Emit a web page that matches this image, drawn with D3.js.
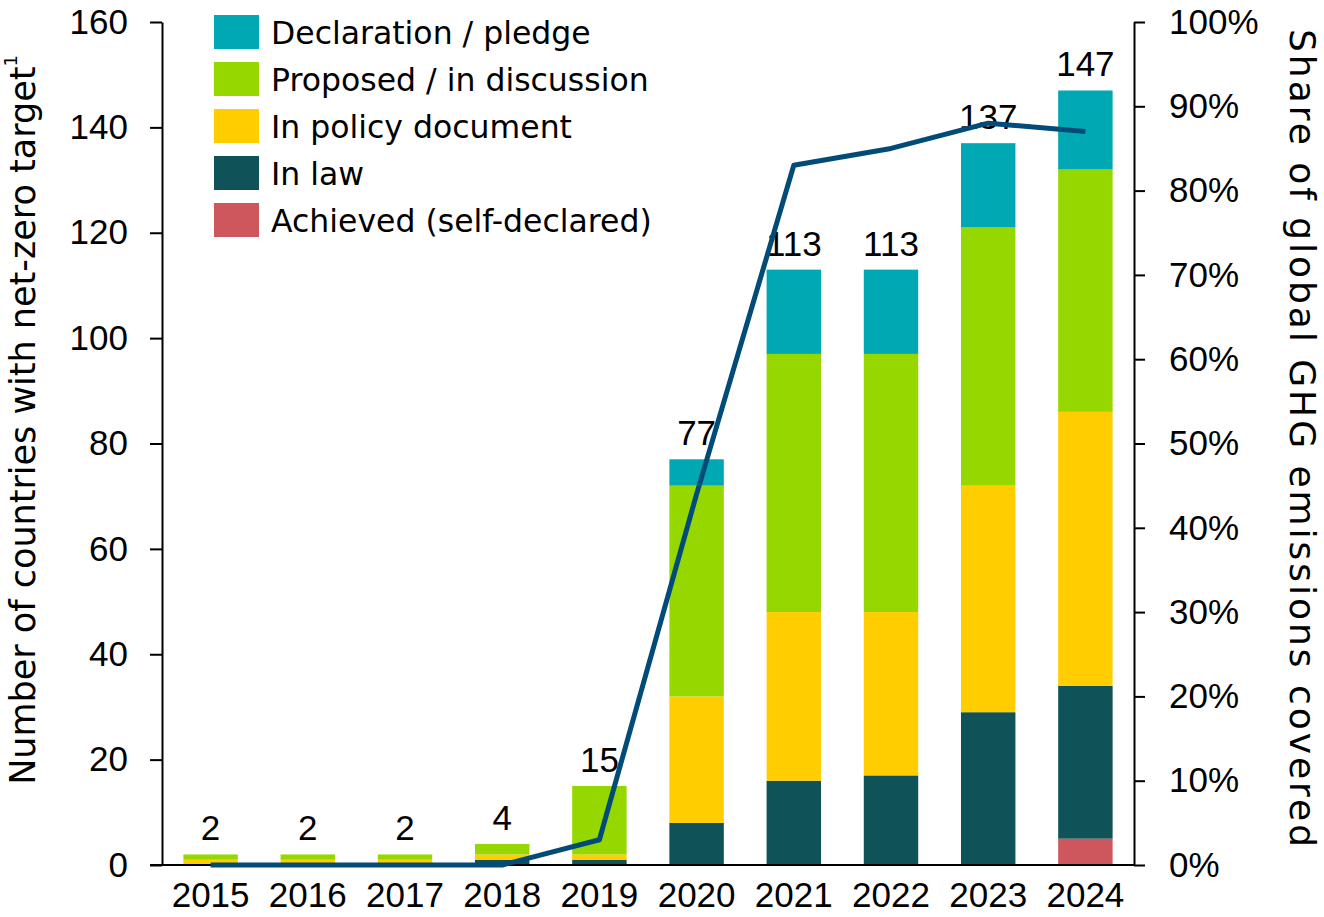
<!DOCTYPE html>
<html>
<head>
<meta charset="utf-8">
<script src="https://d3js.org/d3.v7.min.js"></script>
<style>
body { margin:0; background:#fff; }
text { font-family: "DejaVu Sans", sans-serif; fill:#000; }
.num { font-family: "Liberation Sans", Arial, sans-serif; }
</style>
</head>
<body>
<div id="chart"></div>
<script>
// data
var years = ["2015","2016","2017","2018","2019","2020","2021","2022","2023","2024"];
var achieved    = [0, 0, 0, 0, 0, 0, 0, 0, 0, 5];
var inLaw       = [0, 0, 0, 1, 1, 8, 16, 17, 29, 29];
var inPolicy    = [1, 1, 1, 1, 1, 24, 32, 31, 43, 52];
var proposed    = [1, 1, 1, 2, 13, 40, 49, 49, 49, 46];
var declaration = [0, 0, 0, 0, 0, 5, 16, 16, 16, 15];
var totals      = [2, 2, 2, 4, 15, 77, 113, 113, 137, 147];
var ghgShare    = [0, 0, 0, 0, 3, 44, 83, 85, 88, 87];

var leftTicks  = [0, 20, 40, 60, 80, 100, 120, 140, 160];
var rightTicks = [0, 10, 20, 30, 40, 50, 60, 70, 80, 90, 100];

var seriesNames = ["Achieved (self-declared)", "In law", "In policy document", "Proposed / in discussion", "Declaration / pledge"];
var seriesData  = [achieved, inLaw, inPolicy, proposed, declaration];
var colorArr    = ["#cd575c", "#0f5257", "#ffcd00", "#97d700", "#00a8b4"];

var W = 1324, H = 917;
var pLeft = 162, pRight = 1134, pTop = 22, pBottom = 865;

var svg = d3.select("#chart").append("svg")
    .attr("width", W)
    .attr("height", H);

var x = d3.scaleBand().domain(years).range([pLeft, pRight]).paddingInner(0.44).paddingOuter(0.22);
var y = d3.scaleLinear().domain([0, 160]).range([pBottom, pTop]);
var y2 = d3.scaleLinear().domain([0, 100]).range([pBottom, pTop]);

// stacked rows
var rows = years.map(function(yr, i){
    var r = {year: yr};
    seriesNames.forEach(function(s, k){ r[s] = seriesData[k][i]; });
    return r;
});
var stack = d3.stack().keys(seriesNames)(rows);

var layer = svg.selectAll(".layer").data(stack)
    .enter().append("g")
    .attr("class", "layer")
    .attr("fill", function(d, i){ return colorArr[i]; });

layer.selectAll("rect").data(function(d){ return d; })
    .enter().append("rect")
    .attr("x", function(d){ return x(d.data.year); })
    .attr("width", x.bandwidth())
    .attr("y", function(d){ return y(d[1]); })
    .attr("height", function(d){ return y(d[0]) - y(d[1]); });

// total labels
svg.selectAll(".total").data(totals)
    .enter().append("text")
    .attr("class", "total num")
    .attr("x", function(d, i){ return x(years[i]) + x.bandwidth()/2; })
    .attr("y", function(d){ return y(d) - 14; })
    .attr("text-anchor", "middle")
    .style("font-size", "35px")
    .text(function(d){ return d; });

// left axis
var yAxis = d3.axisLeft(y).tickValues(leftTicks).tickSize(12).tickPadding(22).tickSizeOuter(0);
var gy = svg.append("g").attr("transform", "translate(" + pLeft + ",0)").call(yAxis);
gy.selectAll("text").attr("class", "num").style("font-size", "35px");

// right axis
var y2Axis = d3.axisRight(y2).tickValues(rightTicks).tickSize(11).tickPadding(24).tickSizeOuter(0)
    .tickFormat(function(d){ return d + "%"; });
var gy2 = svg.append("g").attr("transform", "translate(" + pRight + ",0)").call(y2Axis);
gy2.selectAll("text").attr("class", "num").style("font-size", "35px");

// x axis
var xAxis = d3.axisBottom(x).tickSize(0).tickPadding(17);
var gx = svg.append("g").attr("transform", "translate(0," + pBottom + ")").call(xAxis);
gx.select(".domain").attr("d", "M" + (pLeft - 12) + ",0H" + pRight);
gx.selectAll("text").attr("class", "num").style("font-size", "35px");

svg.selectAll(".domain, .tick line").attr("stroke", "#000").attr("stroke-width", 2);

// GHG share line
var line = d3.line()
    .x(function(d, i){ return x(years[i]) + x.bandwidth()/2; })
    .y(function(d){ return y2(d); });

svg.append("path")
    .datum(ghgShare)
    .attr("fill", "none")
    .attr("stroke", "#004b78")
    .attr("stroke-width", 5)
    .attr("stroke-linejoin", "round")
    .attr("d", line);

// axis titles
var lt = svg.append("text")
    .attr("transform", "translate(25," + 420 + ") rotate(-90)")
    .attr("text-anchor", "middle")
    .attr("dominant-baseline", "middle")
    .style("font-size", "35px");
lt.append("tspan").text("Number of countries with net-zero target");
lt.append("tspan").attr("dy", -13).style("font-size", "18px").text("1");

svg.append("text")
    .attr("transform", "translate(1300," + 438 + ") rotate(90)")
    .attr("text-anchor", "middle")
    .attr("dominant-baseline", "middle")
    .attr("textLength", 818)
    .attr("lengthAdjust", "spacing")
    .style("font-size", "36px")
    .text("Share of global GHG emissions covered");

// legend (top to bottom: reverse of stack order)
var legendNames = seriesNames.slice().reverse();
var legendColors = colorArr.slice().reverse();
var legend = svg.selectAll(".legend").data(legendNames)
    .enter().append("g")
    .attr("class", "legend")
    .attr("transform", function(d, i){ return "translate(214," + (15 + i*47) + ")"; });

legend.append("rect")
    .attr("width", 45)
    .attr("height", 34)
    .attr("fill", function(d, i){ return legendColors[i]; });

legend.append("text")
    .attr("x", 57)
    .attr("y", 18)
    .attr("dominant-baseline", "central")
    .style("font-size", "31.5px")
    .text(function(d){ return d; });
</script>
</body>
</html>
